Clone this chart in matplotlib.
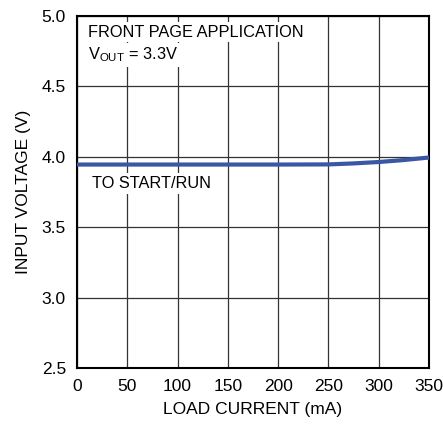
import matplotlib
matplotlib.use("Agg")
import matplotlib.pyplot as plt
from matplotlib import font_manager

names = {f.name for f in font_manager.fontManager.ttflist}
fam = ['Liberation Sans Narrow', 'Liberation Sans', 'DejaVu Sans'] if 'Liberation Sans Narrow' in names else ['Liberation Sans', 'DejaVu Sans']
plt.rcParams['font.family'] = fam
plt.rcParams['mathtext.fontset'] = 'custom'
plt.rcParams['mathtext.rm'] = fam[0]

load_current = [0, 50, 100, 150, 200, 250, 275, 300, 325, 350]
input_voltage = [3.945, 3.945, 3.945, 3.945, 3.945, 3.946, 3.953, 3.963, 3.977, 3.995]
x_ticks = [0, 50, 100, 150, 200, 250, 300, 350]
y_ticks = [2.5, 3.0, 3.5, 4.0, 4.5, 5.0]

fig = plt.figure(figsize=(4.43, 4.25), dpi=100)
ax = fig.add_axes([77/443, 57/425, 352/443, 352/425])
ax.set_xlim(0, 350)
ax.set_ylim(2.5, 5.0)
ax.set_xticks(x_ticks)
ax.set_yticks(y_ticks)
ax.set_xticklabels([str(v) for v in x_ticks])
ax.set_yticklabels([f"{v:.1f}" for v in y_ticks])
ax.grid(True, color='#333333', linewidth=0.9)
ax.tick_params(length=0, labelsize=12.5, pad=8)
for s in ax.spines.values():
    s.set_linewidth(1.5)
    s.set_color('black')

ax.plot(load_current, input_voltage, color='#3a57a3', linewidth=3, zorder=3)

bbox = dict(facecolor='white', edgecolor='none', pad=2)
ax.text(11, 4.885, "FRONT PAGE APPLICATION", fontsize=11.8, va='center', ha='left', bbox=bbox, zorder=4)
ax.text(11, 4.725, r"V$_{\mathregular{OUT}}$ = 3.3V", fontsize=11.8, va='center', ha='left', bbox=bbox, zorder=4)
ax.text(15, 3.81, "TO START/RUN", fontsize=11.8, va='center', ha='left', bbox=bbox, zorder=4)

ax.set_xlabel("LOAD CURRENT (mA)", fontsize=12.5, labelpad=6)
ax.set_ylabel("INPUT VOLTAGE (V)", fontsize=12.5, labelpad=8)

fig.savefig("out.png", dpi=100)
